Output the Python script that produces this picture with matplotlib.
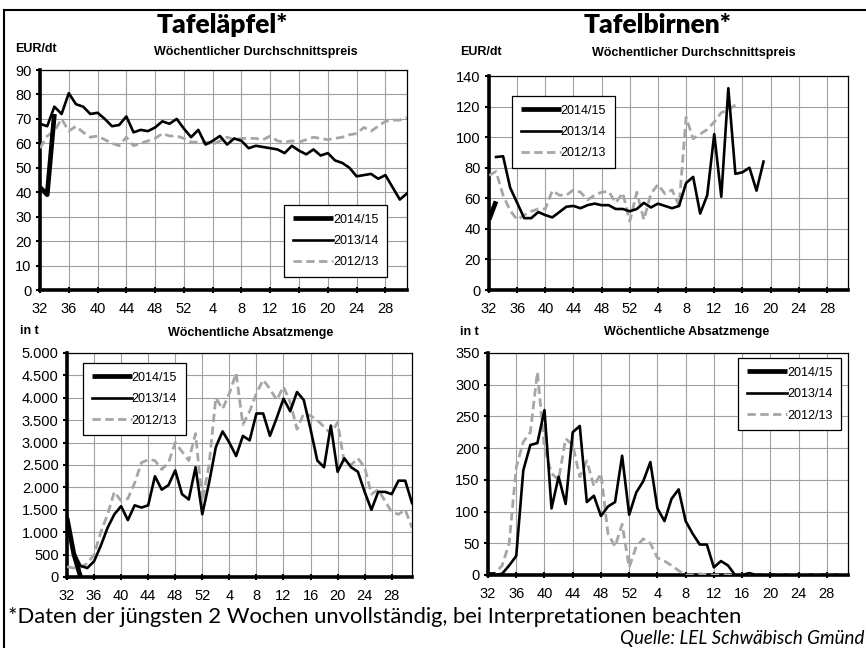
import numpy as np
import matplotlib
matplotlib.use("Agg")
import matplotlib.pyplot as plt
from matplotlib.lines import Line2D
from matplotlib.ticker import FuncFormatter

plt.rcParams['font.family'] = ['Liberation Sans', 'DejaVu Sans']

W, H = 866, 648

# Kalenderwochen (Saison ab KW 32)
weeks = list(range(32, 53)) + list(range(1, 32))
season_labels = ['2014/15', '2013/14', '2012/13']

# Tafeläpfel - Preis EUR/dt
apfel_preis_1415 = [42, 39, 72]
apfel_preis_1314 = [68, 67, 75, 72, 80.5, 76, 75, 72, 72.5, 70, 67, 67.5, 71, 64.5,
                    65.5, 65, 66.5, 69, 68, 70, 66, 62.5, 65.5, 59.5, 61, 63, 59.5, 62,
                    61, 58, 59, 58.5, 58, 57.5, 56, 59, 57, 55.5, 57.5, 55, 56, 53,
                    52, 50, 46.5, 47, 47.5, 45.5, 47, 42, 37, 39.5]
apfel_preis_1213 = [58, 63, 65, 70, 65, 67, 64.5, 62.5, 63, 61.5, 60, 59, 62.5, 59,
                    60, 61, 62, 64, 63, 63, 62, 60.5, 60.5, 60.5, 59.5, 61, 62.5, 61.5,
                    62, 62, 62, 61.5, 63, 61, 60.5, 61, 60.5, 61.5, 62.5, 62, 61.5, 62,
                    62.5, 63.5, 64, 66.5, 65, 67, 69, 69.5, 69.5, 70.5]

# Tafelbirnen - Preis EUR/dt
birne_preis_1415 = [46, 58]
birne_preis_1314 = [np.nan, 87, 87.5, 67, 57, 47, 47, 51, 49, 47.5, 51, 54.5, 55, 53.5,
                    55.5, 56.5, 55.5, 55.5, 53, 53, 51.5, 53, 57, 54, 56.5, 55, 53.5,
                    55, 70, 74, 50, 62, 102, 61, 132, 76, 77, 80, 65, 84]
birne_preis_1213 = [75, 77.5, 62, 52, 46, 49, 51.5, 53, 53, 65, 62, 62, 65.5, 64, 59,
                    62, 64, 64.5, 57, 63.5, 45, 64, 46, 63, 69, 63, 65.5, 55, 113, 99,
                    102, 105, 110, 116, 118, 121]

# Tafeläpfel - Absatzmenge in t
apfel_menge_1415 = [1320, 520, 0]
apfel_menge_1314 = [1300, 550, 250, 200, 350, 700, 1100, 1400, 1580, 1270, 1600, 1550,
                    1600, 2250, 1950, 2050, 2380, 1850, 1730, 2450, 1400, 2100, 2900,
                    3250, 3000, 2700, 3150, 3050, 3650, 3650, 3150, 3550, 3980, 3700,
                    4130, 3950, 3300, 2600, 2450, 3380, 2350, 2650, 2450, 2350, 1900,
                    1500, 1900, 1900, 1850, 2150, 2150, 1650]
apfel_menge_1213 = [230, 200, 220, 300, 500, 1000, 1400, 1900, 1700, 1750, 2100, 2550,
                    2620, 2600, 2400, 2550, 3000, 2800, 2600, 3200, 1700, 2500, 4000,
                    3750, 4100, 4550, 3400, 3700, 4100, 4400, 4200, 3950, 4250, 3900,
                    3300, 3650, 3600, 3500, 3350, 3200, 3450, 2550, 2500, 2650, 2450,
                    1850, 1950, 1700, 1450, 1400, 1500, 1100]

# Tafelbirnen - Absatzmenge in t
birne_menge_1415 = [2, 2]
birne_menge_1314 = [0, 0, 2, 15, 30, 165, 205, 208, 260, 105, 155, 112, 225, 235, 115,
                    125, 93, 108, 115, 188, 95, 130, 148, 178, 105, 85, 120, 135, 85,
                    65, 48, 48, 12, 22, 15, 0, 0, 3, 0, 0, 0, 0, 0, 0, 0, 0, 0, 0, 0,
                    0, 0, 0]
birne_menge_1213 = [0, 3, 15, 50, 170, 210, 225, 320, 200, 160, 150, 215, 205, 155, 180,
                    140, 160, 65, 45, 80, 12, 45, 57, 50, 27, 22, 15, 7, 0, 0, 2, 0, 0,
                    0, 0, 0, 0, 0, 0, 0, 0, 0, 0, 0, 0, 0, 0, 0, 0, 0, 0, 0]

styles = [dict(color='black', lw=3.4, solid_capstyle='butt'),
          dict(color='black', lw=1.9),
          dict(color='#a6a6a6', lw=2.0, ls=(0, (3, 1.6)))]


def fx(px):
    return px / W


def fy(py):
    return 1 - py / H


def draw_panel(ax, series, ymax, ystep, fmt, legend_loc, legend_anchor):
    x = np.arange(len(weeks))
    # zuerst 2012/13, dann 2013/14, dann 2014/15 (dick oben)
    for vals, st in reversed(list(zip(series, styles))):
        ax.plot(x[:len(vals)], vals, zorder=3, **st)
    ax.set_xlim(0, len(weeks) - 1)
    ax.set_ylim(0, ymax)
    ax.set_xticks(x[::4])
    ax.set_xticklabels([str(w) for w in weeks[::4]])
    ax.set_yticks(np.arange(0, ymax + ystep / 2, ystep))
    ax.yaxis.set_major_formatter(FuncFormatter(fmt))
    ax.grid(True, color='#a0a0a0', lw=0.8, zorder=0)
    ax.set_axisbelow(True)
    ax.tick_params(axis='x', labelsize=10.5, length=4, width=1.5, direction='inout',
                   pad=6.5)
    ax.tick_params(axis='y', labelsize=10.5, length=3, width=1.5, direction='out',
                   pad=3)
    for s in ['left', 'bottom']:
        ax.spines[s].set_linewidth(2.6)
    for s in ['right', 'top']:
        ax.spines[s].set_linewidth(0.9)
    handles = [Line2D([], [], **st) for st in styles]
    leg = ax.legend(handles, season_labels, loc=legend_loc, bbox_to_anchor=legend_anchor,
                    fontsize=9, handlelength=3.2, handletextpad=0.0, labelspacing=0.75,
                    borderpad=0.7, fancybox=False, framealpha=1, edgecolor='black',
                    borderaxespad=0)
    leg.get_frame().set_linewidth(0.9)


def fmt_int(v, pos):
    return '%d' % v


def fmt_thousand(v, pos):
    return '{:,.0f}'.format(v).replace(',', '.')


fig = plt.figure(figsize=(W / 100, H / 100), dpi=100)

ax1 = fig.add_axes([fx(40), fy(290), fx(367), 220 / H])
ax2 = fig.add_axes([fx(489), fy(290), fx(359), 214 / H])
ax3 = fig.add_axes([fx(67), fy(577), fx(345), 224 / H])
ax4 = fig.add_axes([fx(488), fy(575), fx(360), 222 / H])

draw_panel(ax1, [apfel_preis_1415, apfel_preis_1314, apfel_preis_1213], 90, 10,
           fmt_int, 'lower right', (0.9455, 0.059))
draw_panel(ax2, [birne_preis_1415, birne_preis_1314, birne_preis_1213], 140, 20,
           fmt_int, 'upper left', (0.064, 0.907))
draw_panel(ax3, [apfel_menge_1415, apfel_menge_1314, apfel_menge_1213], 5000, 500,
           fmt_thousand, 'upper left', (0.046, 0.955))
draw_panel(ax4, [birne_menge_1415, birne_menge_1314, birne_menge_1213], 350, 50,
           fmt_int, 'upper right', (0.9806, 0.977))

# Einheiten und Untertitel
for px, py, txt in [(15, 49, 'EUR/dt'), (460, 52, 'EUR/dt'), (20, 331, 'in t'),
                    (460, 332, 'in t')]:
    fig.text(fx(px), fy(py), txt, fontsize=9, fontweight='bold', ha='left', va='center')
for px, py, txt in [(256, 52, 'Wöchentlicher Durchschnittspreis'),
                    (694, 53, 'Wöchentlicher Durchschnittspreis'),
                    (251, 333, 'Wöchentliche Absatzmenge'),
                    (687, 332, 'Wöchentliche Absatzmenge')]:
    fig.text(fx(px), fy(py), txt, fontsize=9, fontweight='bold', ha='center', va='center')

fig.text(fx(222), fy(33), 'Tafeläpfel*', fontsize=19, fontweight='heavy',
         family=['Lato', 'DejaVu Sans'], ha='center', va='baseline')
fig.text(fx(658), fy(33), 'Tafelbirnen*', fontsize=19, fontweight='heavy',
         family=['Lato', 'DejaVu Sans'], ha='center', va='baseline')
fig.text(fx(8), fy(623), '*Daten der jüngsten 2 Wochen unvollständig, bei Interpretationen beachten',
         fontsize=15.8, family=['Lato', 'DejaVu Sans'], ha='left', va='baseline')
fig.text(fx(864), fy(644), 'Quelle: LEL Schwäbisch Gmünd', fontsize=13.5, style='italic',
         family=['Lato', 'DejaVu Sans'], ha='right', va='baseline')

# Rahmen links und oben
fig.add_artist(Line2D([fx(4), fx(4)], [0, fy(10)], color='black', lw=1.5,
                      transform=fig.transFigure))
fig.add_artist(Line2D([fx(4), 1], [fy(10), fy(10)], color='black', lw=1.5,
                      transform=fig.transFigure))

fig.savefig('out.png', dpi=100)
